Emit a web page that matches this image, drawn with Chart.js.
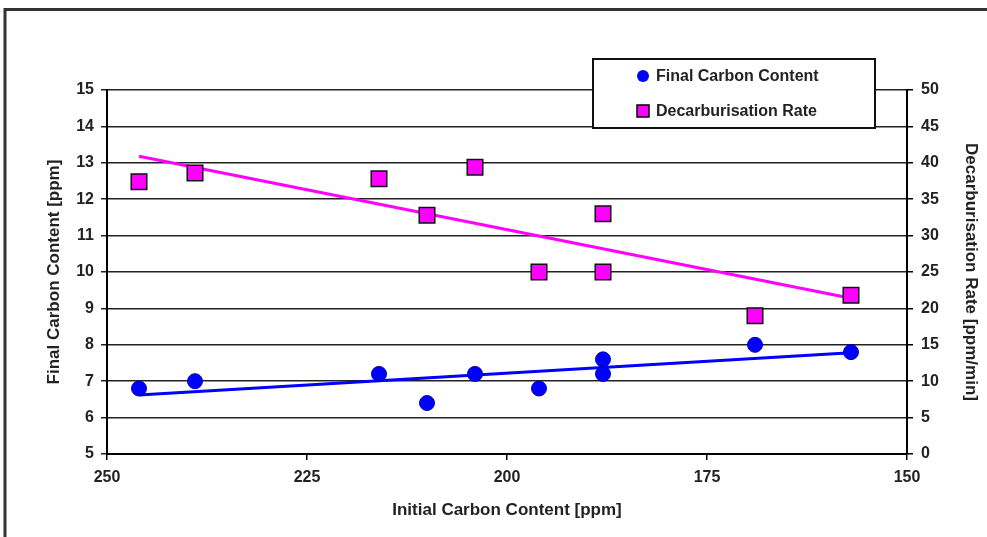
<!DOCTYPE html>
<html>
<head>
<meta charset="utf-8">
<script src="https://cdn.jsdelivr.net/npm/chart.js@4"></script>
<style>
  html, body { margin: 0; padding: 0; background: #fff; }
  #wrap { width: 987px; height: 537px; }
</style>
</head>
<body>
<div id="wrap"><canvas id="chart"></canvas></div>
<script>
// data
const initialCarbon = [246, 239, 216, 210, 204, 196, 188, 188, 169, 157];
const finalCarbon   = [6.8, 7.0, 7.2, 6.4, 7.2, 6.8, 7.6, 7.2, 8.0, 7.8];
const decarbX       = [246, 239, 216, 210, 204, 196, 188, 188, 169, 157];
const decarbRate    = [37.4, 38.6, 37.8, 32.8, 39.4, 25.0, 33.0, 25.0, 19.0, 21.8];
// trend line ends as drawn
const trendX        = [246, 157];
const finalTrend    = [6.62, 7.78];
const decarbTrend   = [40.9, 21.4];
const xTicks = [250, 225, 200, 175, 150];

const FONT = "'Liberation Sans', Arial, sans-serif";
const txt = '#222';
const tickFont = { family: FONT, size: 16, weight: 'bold' };
const titleFont = { family: FONT, size: 17, weight: 'bold' };

function pts(xs, ys) {
  return xs.map((x, i) => ({ x: x, y: ys[i] }));
}

// outer frame of the figure
const framePlugin = {
  id: 'frame',
  beforeDraw(chart) {
    const ctx = chart.ctx;
    ctx.save();
    ctx.fillStyle = '#fff';
    ctx.fillRect(0, 0, chart.width, chart.height);
    ctx.strokeStyle = '#333';
    ctx.lineWidth = 3;
    ctx.beginPath();
    ctx.moveTo(5, chart.height);
    ctx.lineTo(5, 9.5);
    ctx.lineTo(chart.width, 9.5);
    ctx.stroke();
    ctx.restore();
  }
};

// boxed legend sitting over the plot
const boxLegend = {
  id: 'boxLegend',
  afterDraw(chart) {
    const ctx = chart.ctx;
    const ds = chart.data.datasets;
    ctx.save();
    ctx.fillStyle = '#fff';
    ctx.fillRect(593, 59, 282, 69);
    ctx.strokeStyle = '#111';
    ctx.lineWidth = 2;
    ctx.strokeRect(593, 59, 282, 69);
    ctx.font = 'bold 16px ' + FONT;
    ctx.textBaseline = 'middle';
    // circle
    ctx.beginPath();
    ctx.arc(643, 76, 6, 0, Math.PI * 2);
    ctx.fillStyle = ds[0].backgroundColor;
    ctx.fill();
    ctx.fillStyle = txt;
    ctx.fillText(ds[0].label, 656, 77);
    // square
    ctx.fillStyle = ds[1].backgroundColor;
    ctx.fillRect(637, 105, 12, 12);
    ctx.strokeStyle = '#000';
    ctx.lineWidth = 1.5;
    ctx.strokeRect(637, 105, 12, 12);
    ctx.fillStyle = txt;
    ctx.fillText(ds[1].label, 656, 112);
    ctx.restore();
  }
};

new Chart(document.getElementById('chart'), {
  type: 'scatter',
  data: {
    datasets: [
      {
        label: 'Final Carbon Content',
        data: pts(initialCarbon, finalCarbon),
        yAxisID: 'y',
        backgroundColor: '#0000ff',
        borderColor: '#0000c0',
        borderWidth: 1,
        pointStyle: 'circle',
        pointRadius: 7.5
      },
      {
        label: 'Decarburisation Rate',
        data: pts(decarbX, decarbRate),
        yAxisID: 'y2',
        backgroundColor: '#ff00ff',
        borderColor: '#111',
        borderWidth: 1.5,
        pointStyle: 'rect',
        pointRadius: 11
      },
      {
        label: 'trend final',
        data: pts(trendX, finalTrend),
        yAxisID: 'y',
        showLine: true,
        borderColor: '#0000ff',
        borderWidth: 3,
        pointRadius: 0
      },
      {
        label: 'trend decarb',
        data: pts(trendX, decarbTrend),
        yAxisID: 'y2',
        showLine: true,
        borderColor: '#ff00ff',
        borderWidth: 3,
        pointRadius: 0
      }
    ]
  },
  options: {
    responsive: true,
    maintainAspectRatio: false,
    animation: false,
    layout: { padding: { top: 90, left: 0, right: 0, bottom: 0 } },
    plugins: {
      legend: { display: false },
      tooltip: { enabled: false }
    },
    scales: {
      x: {
        type: 'linear',
        position: 'bottom',
        reverse: true,
        min: 150,
        max: 250,
        afterBuildTicks: (s) => { s.ticks = xTicks.map(v => ({ value: v })); },
        afterFit: (s) => { s.height = 83; },
        ticks: { color: txt, font: tickFont, padding: 8, maxRotation: 0 },
        grid: { drawOnChartArea: false, color: '#000', tickLength: 6, lineWidth: 1.5 },
        border: { color: '#000', width: 2 },
        title: {
          display: true,
          text: 'Initial Carbon Content [ppm]',
          color: txt,
          font: titleFont,
          padding: { top: 0, bottom: 16 }
        }
      },
      y: {
        position: 'left',
        min: 5,
        max: 15,
        ticks: { stepSize: 1, color: txt, font: tickFont, padding: 7 },
        afterFit: (s) => { s.width = 107; },
        grid: { color: '#222', lineWidth: 1.5, tickLength: 6 },
        border: { color: '#000', width: 2 },
        title: {
          display: true,
          text: 'Final Carbon Content [ppm]',
          color: txt,
          font: titleFont,
          padding: { top: 44, bottom: 0 }
        }
      },
      y2: {
        position: 'right',
        min: 0,
        max: 50,
        ticks: { stepSize: 5, color: txt, font: tickFont, padding: 8 },
        afterFit: (s) => { s.width = 80; },
        grid: { drawOnChartArea: false, color: '#000', tickLength: 6, lineWidth: 1.5 },
        border: { color: '#000', width: 2 },
        title: {
          display: true,
          text: 'Decarburisation Rate [ppm/min]',
          color: txt,
          font: titleFont,
          padding: { top: 6, bottom: 0 }
        }
      }
    }
  },
  plugins: [framePlugin, boxLegend]
});
</script>
</body>
</html>
